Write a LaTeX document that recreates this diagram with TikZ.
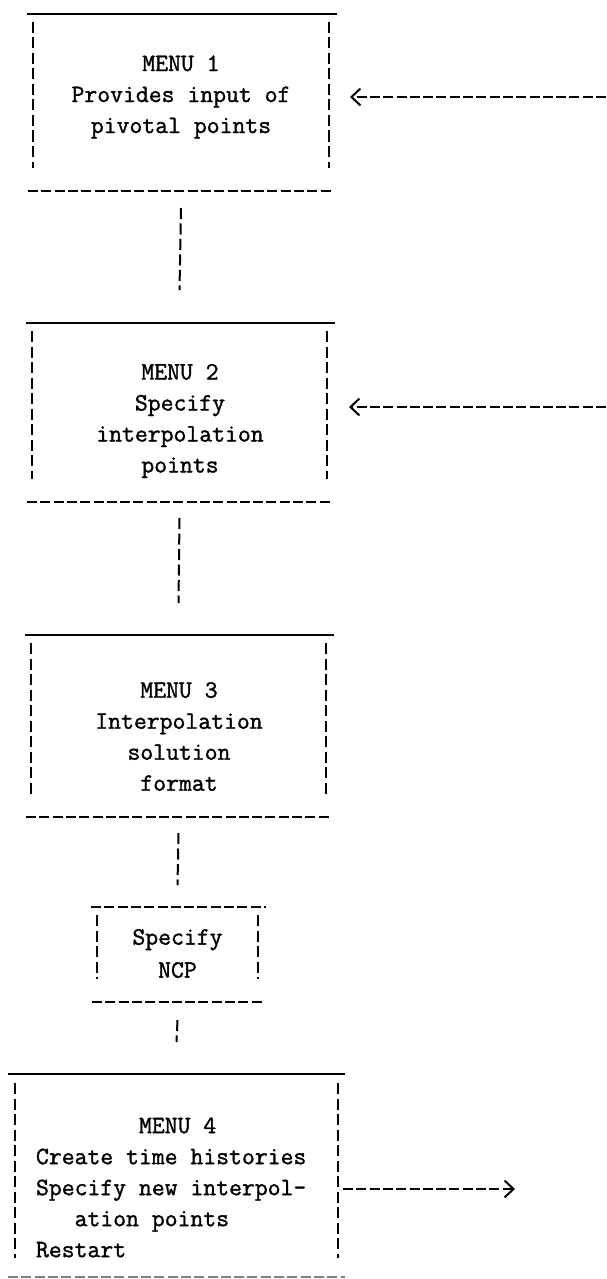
\documentclass[tikz,border=0pt]{standalone}
\usepackage{fontspec}
\newfontfamily\typewr[FakeBold=1.3]{Latin Modern Mono}
\usetikzlibrary{arrows.meta,calc}
\tikzset{
  frame/.style={draw=none,inner sep=0pt,outer sep=0pt,rectangle},
  txt/.style={inner sep=0pt,outer sep=0pt,align=center,font=\typewr\fontsize{25}{31}\selectfont},
  solidline/.style={line width=2.2pt,black},
  hdash/.style={line width=2.5pt,black,dash pattern=on 10pt off 3.3pt},
  vdash/.style={line width=2pt,black,dash pattern=on 11pt off 4.5pt},
  arr/.style={line width=2.5pt,black,dash pattern=on 10pt off 3.3pt,-{Straight Barb[length=9pt,width=17pt,line width=2pt]}}
}
\newcommand{\menuframelines}[2]{%
  \draw[#2] ([xshift=-6pt]#1.north west) -- ([xshift=8pt]#1.north east);
  \draw[vdash] ([yshift=-8pt]#1.north west) -- ([yshift=23pt]#1.south west);
  \draw[vdash] ([yshift=-8pt]#1.north east) -- ([yshift=23pt]#1.south east);
  \draw[hdash] ([xshift=-5pt]#1.south west) -- ([xshift=4pt]#1.south east);}
\begin{document}
\begin{tikzpicture}[x=1pt,y=-1pt]
\useasboundingbox[fill=white] (0,0) rectangle (606,1279);
% frames
\node[frame,minimum width=296pt,minimum height=177pt] (b1) at (181,102.5) {};
\node[frame,minimum width=295pt,minimum height=179pt] (b2) at (179.5,412.5) {};
\node[frame,minimum width=295pt,minimum height=182pt] (b3) at (178.5,726) {};
\node[frame,minimum width=161pt,minimum height=95pt] (b5) at (177.5,954.5) {};
\node[frame,minimum width=323pt,minimum height=202pt] (b4) at (176.5,1175) {};
% texts
\node[txt] (t1) at (181,97) {MENU 1\\Provides input of\\pivotal points};
\node[txt] (t2) at (180,421) {MENU 2\\Specify\\interpolation\\points};
\node[txt] (t3) at (179,736.5) {MENU 3\\Interpolation\\solution\\format};
\node[txt,font=\typewr\fontsize{25}{33}\selectfont] (t5) at (177.5,953.5) {Specify\\NCP};
\node[txt,align=left,anchor=west] (t4) at (36,1187.5) {\phantom{XXXXXXXX}MENU 4\\Create time histories\\Specify new interpol-\\\phantom{XXX}ation points\\Restart};
% frame lines
\menuframelines{b1}{solidline}
\menuframelines{b2}{solidline}
\menuframelines{b3}{solidline}
\menuframelines{b5}{hdash}
\draw[solidline] ([xshift=-7pt]b4.north west) -- ([xshift=7pt]b4.north east);
\draw[vdash] ([yshift=-9pt]b4.north west) -- ([yshift=18pt]b4.south west);
\draw[vdash] ([yshift=-9pt]b4.north east) -- ([yshift=18pt]b4.south east);
\draw[hdash,black!50] ([xshift=-7pt,yshift=-1pt]b4.south west) -- ([xshift=7pt,yshift=-1pt]b4.south east);
% connectors
\draw[vdash] ([yshift=-17pt]b1.south) -- ([yshift=33pt]b2.north);
\draw[vdash] ([yshift=-16pt]b2.south) -- ([yshift=32pt]b3.north);
\draw[vdash] ([yshift=-16pt]b3.south) -- ([yshift=22pt]b5.north);
\draw[vdash] ([yshift=-18pt]b5.south) -- ([yshift=32pt]b4.north);
% side arrows
\coordinate (in1) at (606,97);
\coordinate (in2) at (606,407);
\coordinate (out4) at (515,1189);
\draw[arr] (in1) -- ($(b1.east |- in1)+(21,0)$);
\draw[arr] (in2) -- ($(b2.east |- in2)+(22,0)$);
\draw[arr] ($(b4.east |- out4)+(5,0)$) -- (out4);
\end{tikzpicture}
\end{document}
